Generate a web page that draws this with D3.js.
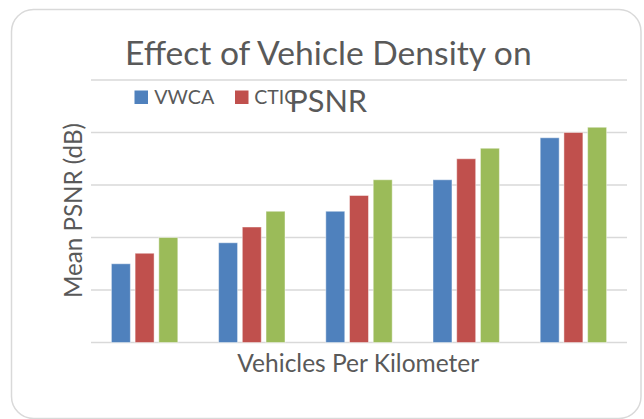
<!DOCTYPE html>
<html>
<head>
<meta charset="utf-8">
<script src="https://cdn.jsdelivr.net/npm/d3@7"></script>
<style>
  html, body { margin: 0; padding: 0; background: #ffffff; }
  svg { display: block; }
  text { font-family: Lato, "Open Sans", sans-serif; fill: #595959; }
</style>
</head>
<body>
<svg id="chart" width="644" height="419"></svg>
<script>
// ---- data ----
const categories = ["1", "2", "3", "4", "5"];
const seriesNames = ["VWCA", "CTIC", "Series 3"];
const vwca  = [1.5, 1.9, 2.5, 3.1, 3.9];
const ctic  = [1.7, 2.2, 2.8, 3.5, 4.0];
const third = [2.0, 2.5, 3.1, 3.7, 4.1];
const legendItems = ["VWCA", "CTIC"];
const yTicks = [0, 1, 2, 3, 4, 5];
const titleLines = ["Effect of Vehicle Density on", "PSNR"];
const xTitle = "Vehicles Per Kilometer";
const yTitle = "Mean PSNR (dB)";

const seriesValues = [vwca, ctic, third];
const colors = ["#4f81bd", "#c0504d", "#9bbb59"];

// ---- layout ----
const svg = d3.select("#chart");
const plot = { left: 91, right: 627, top: 80, bottom: 342.5 };

// chart border
svg.append("rect")
  .attr("x", 11.5).attr("y", 9.5)
  .attr("width", 629.5).attr("height", 409)
  .attr("rx", 22).attr("ry", 22)
  .attr("fill", "#ffffff")
  .attr("stroke", "#d9d9d9")
  .attr("stroke-width", 1.5);

const y = d3.scaleLinear().domain([0, 5]).range([plot.bottom, plot.top]);
const x0 = d3.scaleBand().domain(categories).range([plot.left, plot.right]).paddingInner(0).paddingOuter(0);
const x1 = d3.scaleBand().domain(seriesNames).range([0, x0.bandwidth()]).paddingInner(0.2).paddingOuter(0.86);

// gridlines
svg.append("g").selectAll("line").data(yTicks).join("line")
  .attr("x1", plot.left).attr("x2", plot.right)
  .attr("y1", d => y(d)).attr("y2", d => y(d))
  .attr("stroke", "#d9d9d9").attr("stroke-width", 1.6);

// bars
const rows = [];
categories.forEach((c, i) => {
  seriesNames.forEach((s, j) => rows.push({ c, s, v: seriesValues[j][i], j }));
});
svg.append("g").selectAll("rect").data(rows).join("rect")
  .attr("x", d => x0(d.c) + x1(d.s))
  .attr("y", d => y(d.v))
  .attr("width", x1.bandwidth())
  .attr("height", d => y(0) - y(d.v))
  .attr("fill", d => colors[d.j])
  .attr("stroke", "rgba(255,255,255,0.45)")
  .attr("stroke-width", 1);

// helper: fit text to a given width
function fit(sel, width) {
  const node = sel.node();
  const base = 20;
  sel.style("font-size", base + "px");
  const w = node.getComputedTextLength();
  sel.style("font-size", (base * width / w) + "px");
  return sel;
}

// title
fit(svg.append("text").attr("x", 328.3).attr("y", 65).attr("text-anchor", "middle").text(titleLines[0]), 407);

// legend
const legendPos = [{ sx: 134.5, tx: 154.3, w: 60 }, { sx: 235, tx: 254.3, w: 43 }];
legendItems.forEach((name, i) => {
  svg.append("rect").attr("x", legendPos[i].sx).attr("y", 90.5)
    .attr("width", 13.5).attr("height", 13.5).attr("fill", colors[i]);
  fit(svg.append("text").attr("x", legendPos[i].tx).attr("y", 104).text(name), legendPos[i].w);
});

// title second line (drawn over the legend, as in the reference)
fit(svg.append("text").attr("x", 328.2).attr("y", 111.7).attr("text-anchor", "middle").text(titleLines[1]), 78);

// axis titles
fit(svg.append("text").attr("x", 358.3).attr("y", 372.3).attr("text-anchor", "middle").text(xTitle), 242);
fit(svg.append("text").attr("transform", "translate(82,210.5) rotate(-90)").attr("text-anchor", "middle").text(yTitle), 175);
</script>
</body>
</html>
